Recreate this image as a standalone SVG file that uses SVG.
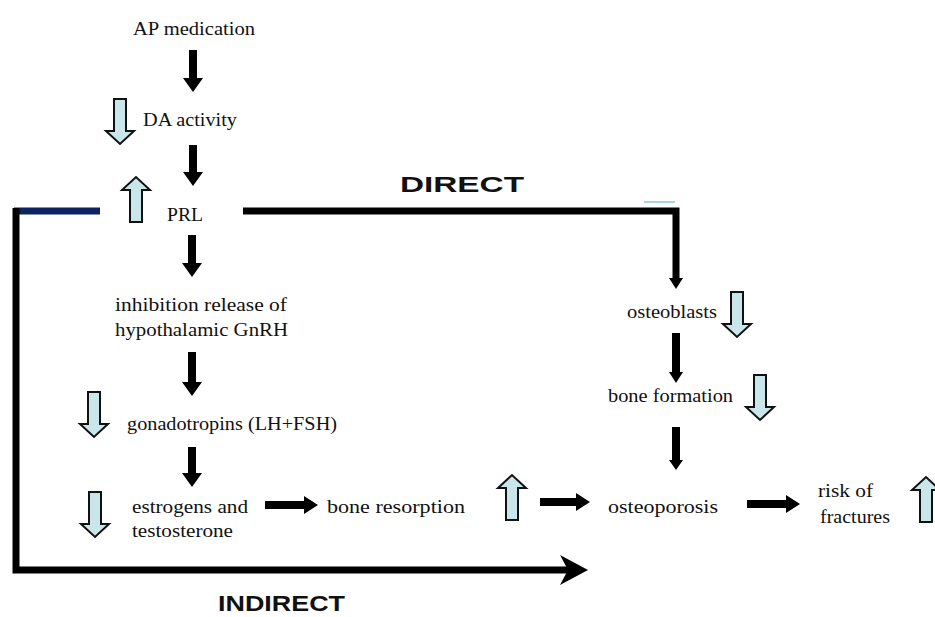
<svg xmlns="http://www.w3.org/2000/svg" width="935" height="617" viewBox="0 0 935 617">
<style>
.t{font-family:"Liberation Serif","Times New Roman",serif;font-size:19px;fill:#111}
.b{font-family:"Liberation Sans",Arial,sans-serif;font-size:22px;font-weight:bold;fill:#111}
.blk{fill:#000}
.ba{fill:#c9e6ea;stroke:#111;stroke-width:2;stroke-linejoin:miter}
.ln{fill:none;stroke:#000;stroke-width:7;stroke-linejoin:miter}
</style>
<defs>
<path id="dn" class="ba" d="M-6,0 H6 V32 H14 L0,45 L-14,32 H-6 Z"/>
<path id="up" class="ba" d="M-6,45 H6 V13 H14 L0,0 L-14,13 H-6 Z"/>
</defs>
<rect width="935" height="617" fill="#fff"/>
<g id="connectors">
<polygon class="blk" points="189,50 197,50 197,78 203,78 193,92 183,78 189,78"/>
<polygon class="blk" points="189,145 197,145 197,172 203,172 193,186 183,172 189,172"/>
<polygon class="blk" points="188,235 196,235 196,263 202,263 192,277 182,263 188,263"/>
<polygon class="blk" points="188,352 196,352 196,382 202,382 192,396 182,382 188,382"/>
<polygon class="blk" points="188,447 196,447 196,473 202,473 192,487 182,473 188,473"/>
<polygon class="blk" points="265,501 304,501 304,496 318,505 304,514 304,509 265,509"/>
<polygon class="blk" points="540,498 576,498 576,493 590,502 576,511 576,506 540,506"/>
<polygon class="blk" points="747,500 786,500 786,495 800,504 786,513 786,508 747,508"/>
<path class="ln" d="M243,211 H676 V279"/>
<polygon class="blk" points="669,278 683,278 676,289"/>
<line x1="644" y1="202" x2="675" y2="202" stroke="#a9d3dc" stroke-width="2"/>
<rect class="blk" x="672" y="333" width="8" height="40"/>
<polygon class="blk" points="669,372 683,372 676,383"/>
<rect class="blk" x="672" y="427" width="8" height="34"/>
<polygon class="blk" points="669,460 683,460 676,470"/>
<line x1="14" y1="211" x2="100" y2="211" stroke="#0d2260" stroke-width="7"/>
<path class="ln" d="M16,208 V570 H570"/>
<polygon class="blk" points="588,570 560,555 568,570 560,585"/>
</g>
<g id="ap"><text class="t" x="133" y="35" textLength="122" lengthAdjust="spacingAndGlyphs">AP medication</text></g>
<g id="da"><use href="#dn" x="120" y="99"/><text class="t" x="143" y="126" textLength="94" lengthAdjust="spacingAndGlyphs">DA activity</text></g>
<g id="prl"><use href="#up" x="136" y="177"/><text class="t" x="167" y="221" textLength="36" lengthAdjust="spacingAndGlyphs">PRL</text></g>
<g id="gnrh"><text class="t" x="115" y="311" textLength="172" lengthAdjust="spacingAndGlyphs">inhibition release of</text><text class="t" x="115" y="336" textLength="173" lengthAdjust="spacingAndGlyphs">hypothalamic GnRH</text></g>
<g id="gonad"><use href="#dn" x="94" y="392"/><text class="t" x="127" y="430" textLength="210" lengthAdjust="spacingAndGlyphs">gonadotropins (LH+FSH)</text></g>
<g id="estro"><use href="#dn" x="95" y="492"/><text class="t" x="132" y="513" textLength="116" lengthAdjust="spacingAndGlyphs">estrogens and</text><text class="t" x="132" y="537" textLength="101" lengthAdjust="spacingAndGlyphs">testosterone</text></g>
<g id="resorption"><text class="t" x="327" y="513" textLength="138" lengthAdjust="spacingAndGlyphs">bone resorption</text><use href="#up" x="512" y="475"/></g>
<g id="osteoporosis"><text class="t" x="608" y="513" textLength="110" lengthAdjust="spacingAndGlyphs">osteoporosis</text></g>
<g id="risk"><text class="t" x="818" y="497" textLength="55" lengthAdjust="spacingAndGlyphs">risk of</text><text class="t" x="820" y="523" textLength="70" lengthAdjust="spacingAndGlyphs">fractures</text><use href="#up" x="926" y="477"/></g>
<g id="osteoblasts"><text class="t" x="627" y="318" textLength="90" lengthAdjust="spacingAndGlyphs">osteoblasts</text><use href="#dn" x="737" y="292"/></g>
<g id="formation"><text class="t" x="608" y="402" textLength="125" lengthAdjust="spacingAndGlyphs">bone formation</text><use href="#dn" x="760" y="375"/></g>
<g id="direct"><text class="b" x="400" y="192" textLength="124" lengthAdjust="spacingAndGlyphs">DIRECT</text></g>
<g id="indirect"><text class="b" x="218" y="611" textLength="127" lengthAdjust="spacingAndGlyphs">INDIRECT</text></g>
</svg>
